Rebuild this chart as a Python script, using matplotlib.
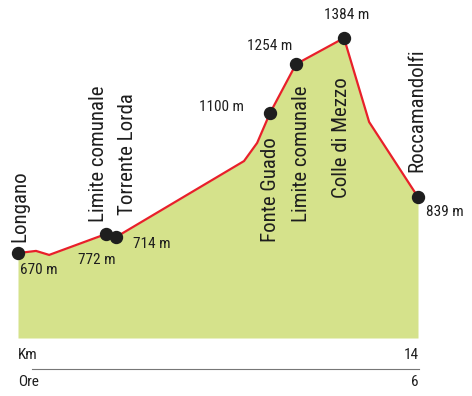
import matplotlib
matplotlib.use("Agg")
import matplotlib.pyplot as plt

# Profile data (distance in km, elevation in m)
km = [0.0, 0.63, 1.09, 3.08, 3.43, 7.91, 8.37, 8.82, 9.73, 11.41, 12.29, 14.0]
elev = [676, 683, 670, 738, 728, 975, 1034, 1131, 1290, 1375, 1102, 858]

# Marked points (index into profile)
marker_idx = [0, 3, 4, 7, 8, 9, 11]

# Place names (vertical labels)
place_names = ["Longano", "Limite comunale", "Torrente Lorda", "Fonte Guado",
               "Limite comunale", "Colle di Mezzo", "Roccamandolfi"]
place_km = [0.05, 2.82, 3.83, 8.82, 9.92, 11.32, 13.95]
place_elev = [712, 777, 800, 712, 777, 855, 940]

# Elevation labels
elev_labels = ["670 m", "772 m", "714 m", "1100 m", "1254 m", "1384 m", "839 m"]
elev_lab_km = [0.735, 2.77, 4.67, 7.12, 8.82, 11.5, 14.95]
elev_lab_e = [621, 654, 706, 1151, 1349, 1450, 810]

base_elev = 400
total_km = 14
total_hours = 6

FONT = ['Roboto Condensed', 'DejaVu Sans']

fig = plt.figure(figsize=(4.72, 3.96), dpi=100)
ax = fig.add_axes([0, 0, 1, 1])
ax.set_xlim(-0.63, 15.89)
ax.set_ylim(211.5, 1498.5)
ax.axis('off')

ax.fill_between(km, elev, base_elev, color='#d5e28b', linewidth=0, zorder=1)
ax.plot(km, elev, color='#e8202a', linewidth=1.6, zorder=2, solid_joinstyle='miter')
ax.plot([km[i] for i in marker_idx], [elev[i] for i in marker_idx], 'o',
        color='#1e1e1e', markersize=8.6, zorder=3)

for name, x, y in zip(place_names, place_km, place_elev):
    ax.text(x, y, name, rotation=90, ha='center', va='bottom', fontsize=15,
            family=FONT, color='#1e1e1e', zorder=4)

for lab, x, y in zip(elev_labels, elev_lab_km, elev_lab_e):
    ax.text(x, y, lab, ha='center', va='center', fontsize=11, family=FONT,
            color='#1e1e1e', zorder=4)

# Bottom scale
ax.text(0.0, 345, "Km", ha='left', va='center', fontsize=11, family=FONT, color='#1e1e1e')
ax.text(total_km + 0.03, 345, str(total_km), ha='right', va='center', fontsize=11,
        family=FONT, color='#1e1e1e')
ax.plot([0.49, total_km + 0.03], [299, 299], color='#777777', linewidth=0.8)
ax.text(0.0, 257, "Ore", ha='left', va='center', fontsize=11, family=FONT, color='#1e1e1e')
ax.text(total_km + 0.03, 257, str(total_hours), ha='right', va='center', fontsize=11,
        family=FONT, color='#1e1e1e')

fig.savefig("out.png", dpi=100)
